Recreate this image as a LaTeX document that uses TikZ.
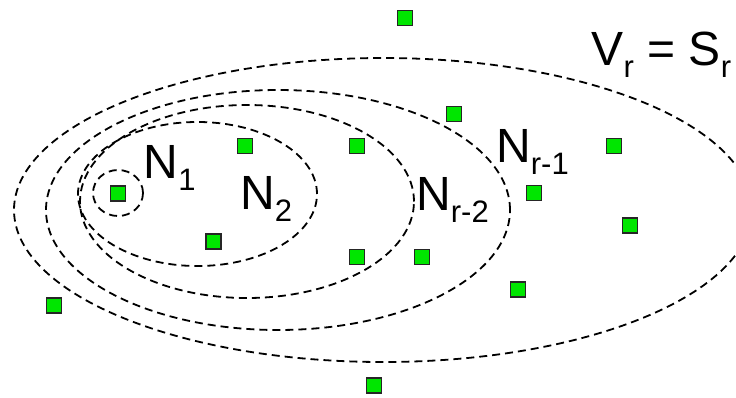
\documentclass[tikz,border=0pt]{standalone}
\usepackage{fontspec}
\setmainfont{Liberation Sans}
\definecolor{vtxgreen}{RGB}{0,230,0}
\newcommand{\lowidx}[1]{\raisebox{-0.25em}{\fontsize{31}{31}\selectfont #1}}
\tikzset{
  vertex/.style={draw=black!85, fill=vtxgreen, line width=1.7pt, minimum size=15pt, inner sep=0pt},
  region/.style={dash pattern=on 8pt off 5pt, line width=1.8pt},
  setlabel/.style={anchor=base west, inner sep=0pt, font=\fontsize{48}{50}\selectfont}
}
\begin{document}
\begin{tikzpicture}[x=1pt, y=-1pt]
        \useasboundingbox (0, 0) rectangle (736, 397);

        % Nested neighbourhoods
        \begin{scope}
        \clip (0, 0) rectangle (736, 397);
        \draw[region] (383, 210) ellipse [x radius=369pt, y radius=152pt];
        \end{scope}
        \draw[region] (278, 210) ellipse [x radius=232pt, y radius=120pt];
        \draw[region] (247, 201.5) ellipse [x radius=167pt, y radius=96.5pt];
        \draw[region] (197.5, 194) ellipse [x radius=119.5pt, y radius=72pt];
        \draw[region] (118, 193) ellipse [x radius=25pt, y radius=23pt];

        % Labels
        \node[setlabel] (lab1) at (143.5, 178) {N\lowidx{1}};
        \node[setlabel] (lab2) at (240, 209) {N\lowidx{2}};
        \node[setlabel] (labr2) at (416, 210) {N\lowidx{r-2}};
        \node[setlabel] (labr1) at (496, 162) {N\lowidx{r-1}};
        \node[setlabel] (labvr) at (591.5, 65) {V\lowidx{r} = S\lowidx{r}};

        % Vertices
        \node[vertex] (v1) at (405, 18) {};
        \node[vertex] (v2) at (454, 114) {};
        \node[vertex] (v3) at (245, 146) {};
        \node[vertex] (v4) at (357, 146) {};
        \node[vertex] (v5) at (614, 146) {};
        \node[vertex] (v6) at (118, 193.5) {};
        \node[vertex] (v7) at (534, 193) {};
        \node[vertex] (v8) at (630, 225.5) {};
        \node[vertex] (v9) at (213.5, 241.5) {};
        \node[vertex] (v10) at (357, 257) {};
        \node[vertex] (v11) at (422, 257) {};
        \node[vertex] (v12) at (518, 289.5) {};
        \node[vertex] (v13) at (54, 305.5) {};
        \node[vertex] (v14) at (374, 385.5) {};
    \end{tikzpicture}
\end{document}
